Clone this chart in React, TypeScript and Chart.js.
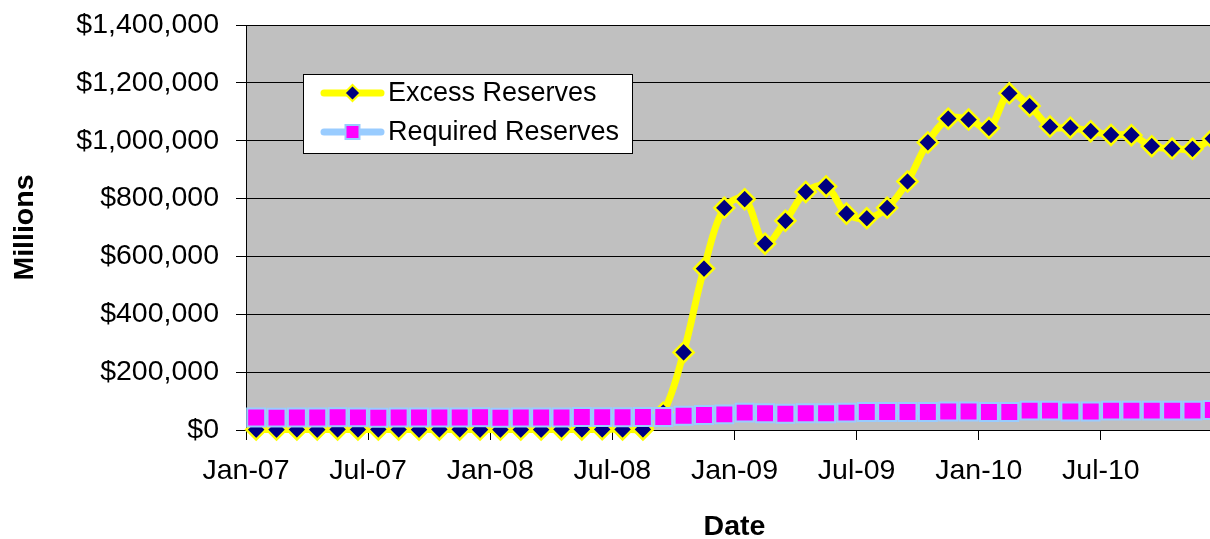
import { useEffect, useRef } from 'react';
import { Chart, registerables } from 'chart.js';

Chart.register(...registerables);

const months = [
  'Jan-07', 'Feb-07', 'Mar-07', 'Apr-07', 'May-07', 'Jun-07', 'Jul-07', 'Aug-07', 'Sep-07', 'Oct-07', 'Nov-07', 'Dec-07',
  'Jan-08', 'Feb-08', 'Mar-08', 'Apr-08', 'May-08', 'Jun-08', 'Jul-08', 'Aug-08', 'Sep-08', 'Oct-08', 'Nov-08', 'Dec-08',
  'Jan-09', 'Feb-09', 'Mar-09', 'Apr-09', 'May-09', 'Jun-09', 'Jul-09', 'Aug-09', 'Sep-09', 'Oct-09', 'Nov-09', 'Dec-09',
  'Jan-10', 'Feb-10', 'Mar-10', 'Apr-10', 'May-10', 'Jun-10', 'Jul-10', 'Aug-10', 'Sep-10', 'Oct-10', 'Nov-10', 'Dec-10',
];

const excessReserves = [
  1650, 1530, 1720, 1480, 1860, 1720, 1800, 1740, 1660, 1850, 1920, 1540,
  1600, 1570, 1620, 1810, 1880, 2270, 2170, 1900, 60000, 268000, 558000, 768000,
  798000, 644000, 723000, 823000, 842000, 748000, 732000, 768000, 859000, 994000, 1076000, 1073000,
  1044000, 1164000, 1120000, 1049000, 1045000, 1033000, 1020000, 1019000, 981000, 973000, 972000, 1007000,
];

const requiredReserves = [
  43500, 42800, 43200, 43000, 43800, 43600, 42700, 42900, 43500, 43300, 43000, 43900,
  42500, 43200, 43000, 43400, 44800, 44500, 44300, 44600, 45000, 49000, 52000, 54000,
  60000, 58000, 56000, 58000, 58000, 60000, 62000, 62000, 62000, 62000, 64000, 64000,
  62000, 62000, 67000, 67000, 64000, 64000, 67000, 67000, 67000, 67000, 67000, 69000,
];

const seriesNames = ['Excess Reserves', 'Required Reserves'];
const yMax = 1400000;
const yStep = 200000;
const monthsPerTick = 6;

const FONT = "'Liberation Sans', Arial, sans-serif";

const bgPlugin = {
  id: 'plotBg',
  beforeDraw(chart: any) {
    const { ctx, chartArea } = chart;
    ctx.save();
    ctx.fillStyle = '#C0C0C0';
    ctx.fillRect(chartArea.left, chartArea.top, chartArea.right - chartArea.left, chartArea.bottom - chartArea.top);
    ctx.restore();
  },
};

function diamond(ctx: CanvasRenderingContext2D, x: number, y: number, r: number) {
  ctx.beginPath();
  ctx.moveTo(x - r, y);
  ctx.lineTo(x, y - r);
  ctx.lineTo(x + r, y);
  ctx.lineTo(x, y + r);
  ctx.closePath();
}

const legendPlugin = {
  id: 'boxLegend',
  afterDatasetsDraw(chart: any) {
    const { ctx, chartArea } = chart;
    const x0 = chartArea.left + 57;
    const y0 = chartArea.top + 49;
    const w = 330;
    const h = 80;
    ctx.save();
    ctx.fillStyle = '#FFFFFF';
    ctx.fillRect(x0, y0, w, h);
    ctx.strokeStyle = '#000000';
    ctx.lineWidth = 1;
    ctx.strokeRect(x0 + 0.5, y0 + 0.5, w - 1, h - 1);
    const rows = [y0 + 19, y0 + 58];
    chart.data.datasets.forEach((ds: any, i: number) => {
      const cy = rows[i];
      ctx.beginPath();
      ctx.lineCap = 'round';
      ctx.strokeStyle = ds.borderColor;
      ctx.lineWidth = 7;
      ctx.moveTo(x0 + 21, cy);
      ctx.lineTo(x0 + 78, cy);
      ctx.stroke();
      const mx = x0 + 49.5;
      ctx.lineCap = 'butt';
      if (i === 0) {
        diamond(ctx, mx, cy, 8);
        ctx.fillStyle = ds.pointBackgroundColor;
        ctx.fill();
        ctx.lineWidth = 2;
        ctx.strokeStyle = ds.pointBorderColor;
        ctx.stroke();
      } else {
        ctx.fillStyle = ds.pointBackgroundColor;
        ctx.fillRect(mx - 7, cy - 7, 14, 14);
        ctx.lineWidth = 2;
        ctx.strokeStyle = ds.pointBorderColor;
        ctx.strokeRect(mx - 7, cy - 7, 14, 14);
      }
      ctx.fillStyle = '#000000';
      ctx.font = `27px ${FONT}`;
      ctx.textBaseline = 'middle';
      ctx.textAlign = 'left';
      ctx.fillText(ds.label, x0 + 85, cy + 1);
    });
    ctx.restore();
  },
};

export default function App() {
  const ref = useRef<HTMLCanvasElement>(null);

  useEffect(() => {
    const canvas = ref.current;
    if (!canvas) return;
    const chart = new Chart(canvas, {
      type: 'line',
      data: {
        datasets: [
          {
            label: seriesNames[0],
            data: excessReserves.map((v, i) => ({ x: i + 0.5, y: v })),
            borderColor: '#FFFF00',
            borderWidth: 7,
            tension: 0.35,
            pointStyle: 'rectRot',
            pointRadius: 10,
            pointBackgroundColor: '#000080',
            pointBorderColor: '#FFFF00',
            pointBorderWidth: 2.5,
            clip: false,
            order: 1,
          },
          {
            label: seriesNames[1],
            data: requiredReserves.map((v, i) => ({ x: i + 0.5, y: v })),
            borderColor: '#99CCFF',
            borderWidth: 6,
            tension: 0.35,
            pointStyle: 'rect',
            pointRadius: 12.7,
            pointBackgroundColor: '#FF00FF',
            pointBorderColor: '#99CCFF',
            pointBorderWidth: 2,
            clip: false,
            order: 0,
          },
        ] as any,
      },
      options: {
        responsive: false,
        animation: false,
        devicePixelRatio: 1,
        layout: { autoPadding: false, padding: { top: 25, left: 0, right: 0, bottom: 0 } },
        plugins: {
          legend: { display: false },
          tooltip: { enabled: false },
        },
        scales: {
          x: {
            type: 'linear',
            min: 0,
            max: months.length,
            ticks: {
              stepSize: monthsPerTick,
              color: '#000000',
              font: { family: FONT, size: 28.5 },
              padding: 14,
              maxRotation: 0,
              autoSkip: false,
              callback: (v: any) => months[Number(v)] ?? '',
            },
            afterBuildTicks: (scale: any) => {
              scale.ticks = scale.ticks.filter(
                (t: any) => t.value % monthsPerTick === 0 && t.value < months.length,
              );
            },
            afterFit: (scale: any) => {
              scale.height = 109;
              scale.paddingLeft = 0;
              scale.paddingRight = 0;
              scale.paddingTop = 0;
              scale.paddingBottom = 0;
            },
            grid: {
              drawOnChartArea: false,
              drawTicks: true,
              tickLength: 10,
              tickColor: '#000000',
              tickWidth: 1,
            },
            border: { display: true, color: '#000000', width: 1 },
            title: {
              display: true,
              text: 'Date',
              color: '#000000',
              font: { family: FONT, size: 28.5, weight: 'bold', lineHeight: 0.84 },
              padding: { top: 0, bottom: 0 },
            },
          },
          y: {
            min: 0,
            max: yMax,
            ticks: {
              stepSize: yStep,
              color: '#000000',
              font: { family: FONT, size: 28.5 },
              padding: 17,
              callback: (v: any) => '$' + Number(v).toLocaleString('en-US'),
            },
            afterFit: (scale: any) => {
              scale.width = 246;
              scale.paddingLeft = 0;
              scale.paddingRight = 0;
              scale.paddingTop = 0;
              scale.paddingBottom = 0;
            },
            grid: {
              color: '#000000',
              lineWidth: 1,
              drawTicks: true,
              tickLength: 10,
              tickColor: '#000000',
            },
            border: { display: true, color: '#000000', width: 1 },
            title: {
              display: true,
              text: 'Millions',
              color: '#000000',
              font: { family: FONT, size: 28.5, weight: 'bold' },
              padding: { top: 8, bottom: 0 },
            },
          },
        },
      } as any,
      plugins: [bgPlugin, legendPlugin],
    });
    return () => chart.destroy();
  }, []);

  return (
    <div
      style={{
        position: 'absolute',
        left: 0,
        top: 0,
        width: 1210,
        height: 539,
        overflow: 'hidden',
        background: '#FFFFFF',
      }}
    >
      <canvas ref={ref} width={1223} height={539} style={{ display: 'block', width: 1223, height: 539 }} />
    </div>
  );
}
